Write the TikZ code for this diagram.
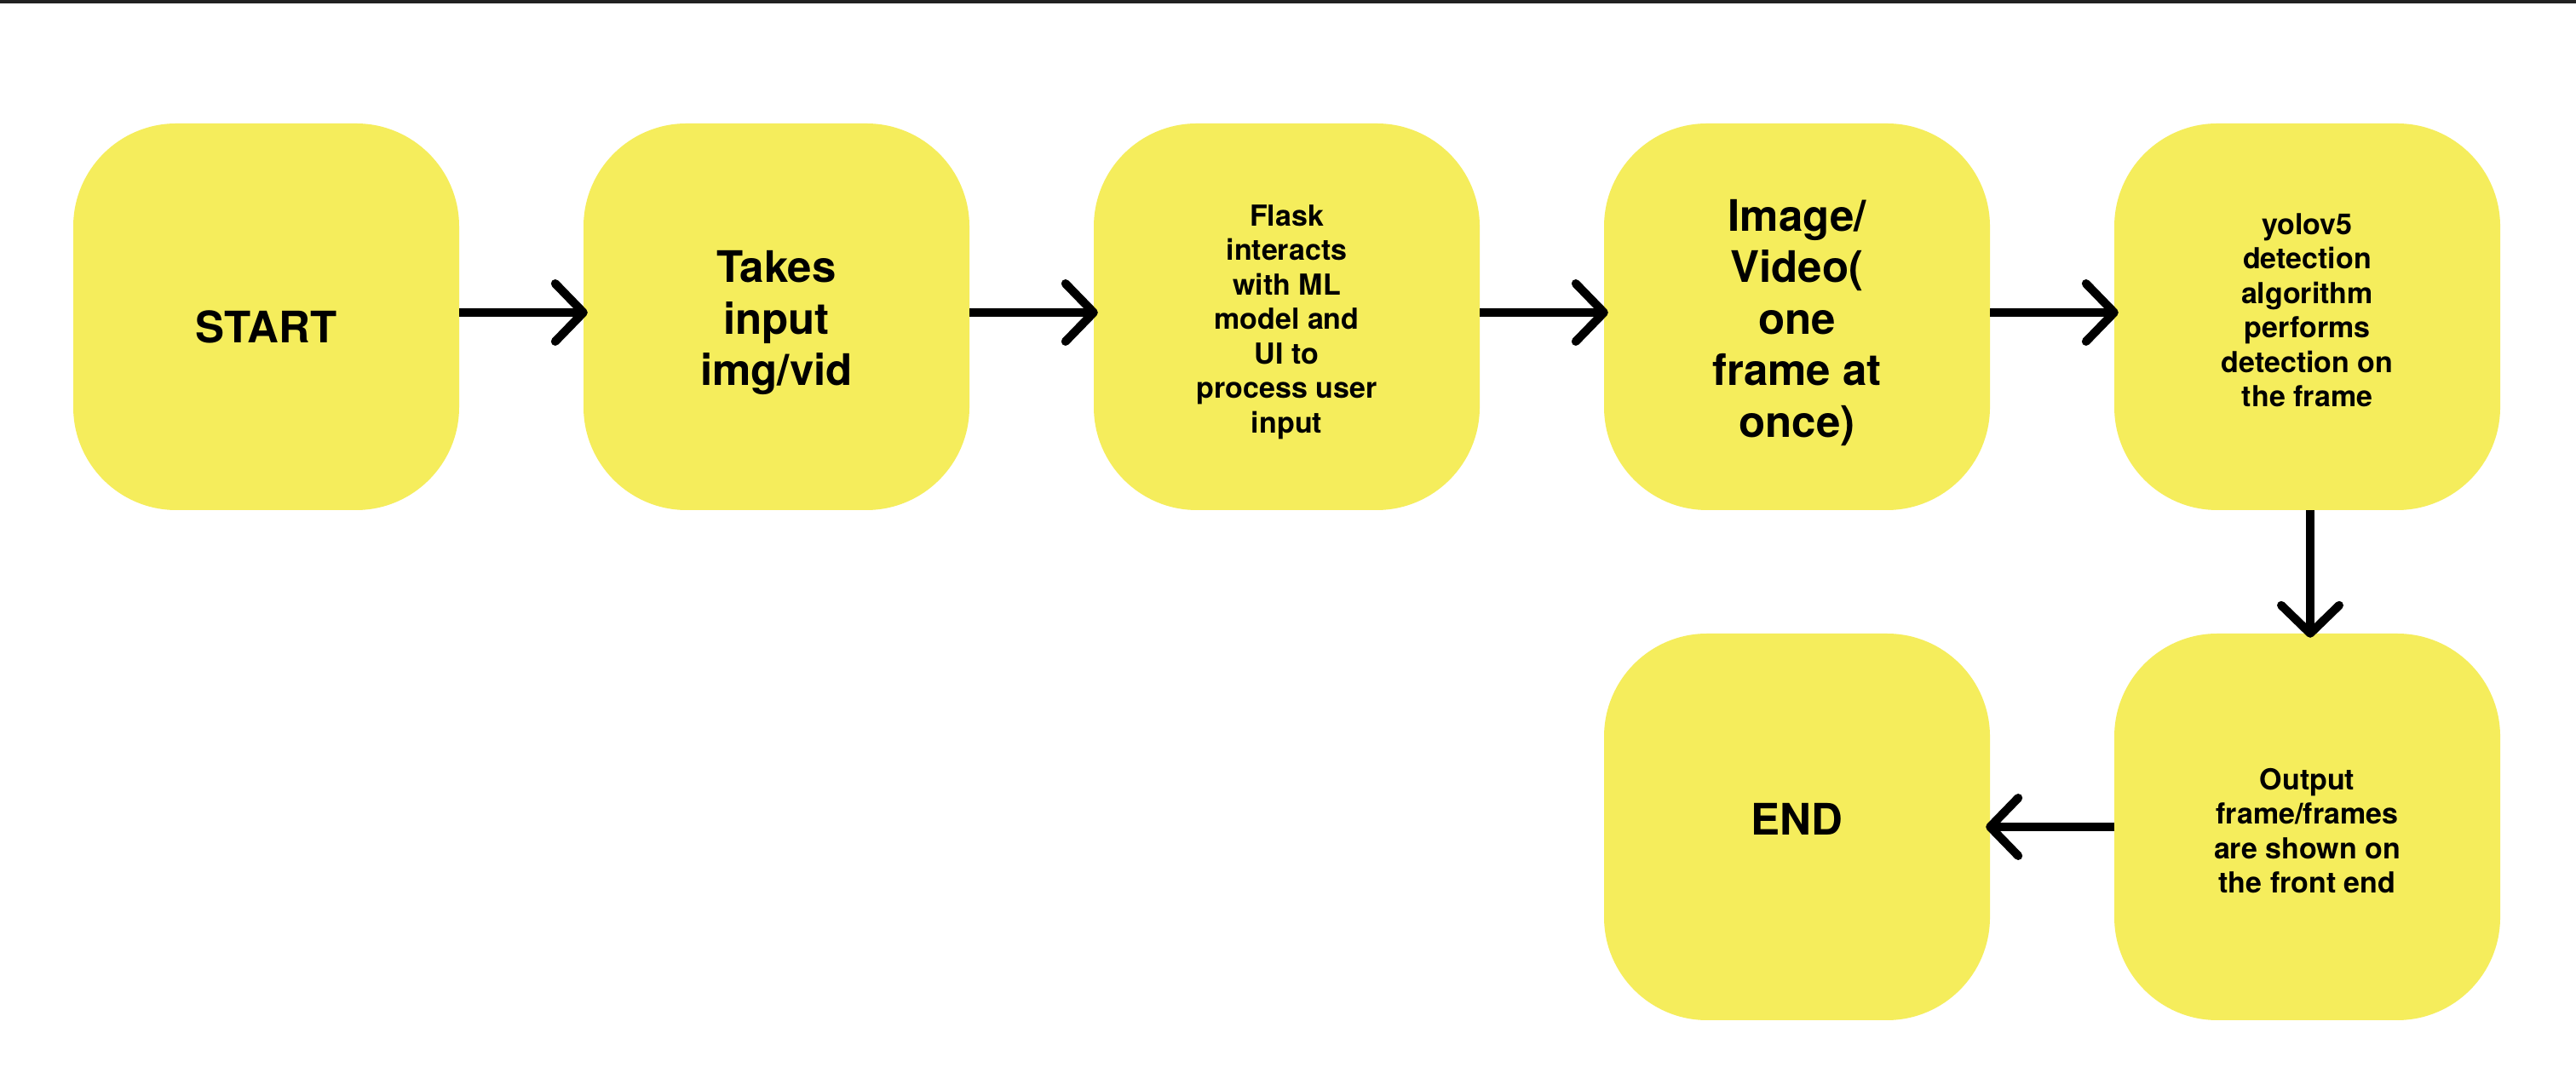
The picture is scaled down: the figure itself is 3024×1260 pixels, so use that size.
\documentclass[tikz,border=0pt]{standalone}
\usepackage{fontspec}
\setmainfont{TeX Gyre Heros}
\usetikzlibrary{arrows.meta}
\definecolor{boxyellow}{RGB}{245,237,92}
\definecolor{topband}{RGB}{34,34,34}
\begin{document}
\begin{tikzpicture}[x=1pt,y=1pt,
  stepbox/.style={fill=boxyellow, rounded corners=121pt, minimum width=453pt, minimum height=454pt, inner sep=0pt, draw=none},
  bigtext/.style={font=\fontsize{51}{60.5}\selectfont\bfseries, align=center, inner sep=0pt, text depth=0pt},
  smalltext/.style={font=\fontsize{34}{40.5}\selectfont\bfseries, align=center, inner sep=0pt, text depth=0pt},
  conn/.style={line width=10pt, shorten >=-5pt, -{Straight Barb[length=33pt, width=68pt, round]}}
]
\fill[white] (0,0) rectangle (3024,1260);
\useasboundingbox (0,0) rectangle (3024,1260);
\fill[topband] (0,1256) rectangle (3024,1260);

% boxes
\node[stepbox] (b1) at (312.5,888) {};
\node[stepbox] (b2) at (911.5,888) {};
\node[stepbox] (b3) at (1510.5,888) {};
\node[stepbox] (b4) at (2109.5,888) {};
\node[stepbox] (b5) at (2708.5,888) {};
\node[stepbox] (b6) at (2708.5,289) {};
\node[stepbox] (b7) at (2109.5,289) {};

% texts
\node[bigtext] (t1) at (312.5,876) {START};
\node[bigtext] (t2) at (911.5,886.5) {Takes\\input\\img/vid};
\node[smalltext] (t3) at (1510.5,885.5) {Flask\\interacts\\with ML\\model and\\UI to\\process user\\input};
\node[bigtext] (t4) at (2109.5,886.5) {Image/\\Video(\\one\\frame at\\once)};
\node[smalltext] (t5) at (2708.5,896) {yolov5\\detection\\algorithm\\performs\\detection on\\the frame};
\node[smalltext] (t6) at (2708.5,284.5) {Output\\frame/frames\\are shown on\\the front end};
\node[bigtext] (t7) at (2109.5,298) {END};

% connectors
\draw[conn] ([yshift=5pt]b1.east) -- ([yshift=5pt]b2.west);
\draw[conn] ([yshift=5pt]b2.east) -- ([yshift=5pt]b3.west);
\draw[conn] ([yshift=5pt]b3.east) -- ([yshift=5pt]b4.west);
\draw[conn] ([yshift=5pt]b4.east) -- ([yshift=5pt]b5.west);
\draw[conn] ([xshift=3.5pt]b5.south) -- ([xshift=3.5pt]b6.north);
\draw[conn] (b6.west) -- (b7.east);
\end{tikzpicture}
\end{document}
